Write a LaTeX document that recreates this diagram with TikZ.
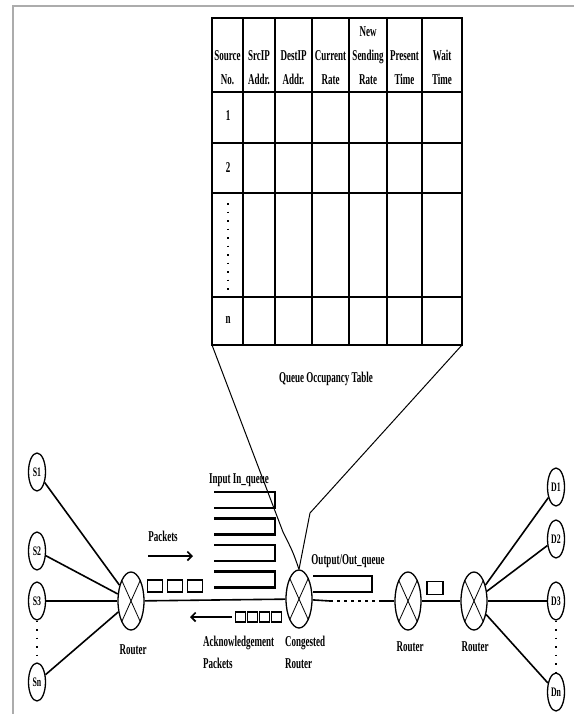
\documentclass[tikz,border=0pt]{standalone}
\usepackage{fontspec}
\setmainfont{Liberation Serif}[FakeStretch=0.6]
\usepackage{tikz}
\usetikzlibrary{arrows.meta}
\usetikzlibrary{shapes.geometric}
\usetikzlibrary{positioning}
\tikzset{>={Straight Barb[length=1.6mm,width=3.2mm]}}
\tikzset{
  router/.style={ellipse, draw, line width=1.3pt, minimum width=26pt, minimum height=58pt, inner sep=0pt,
    path picture={\draw[line width=.8pt] (path picture bounding box.north west) -- (path picture bounding box.south east)
      (path picture bounding box.south west) -- (path picture bounding box.north east);}},
  host/.style={ellipse, draw, line width=1.3pt, minimum width=17pt, minimum height=38pt, inner sep=0pt,
    font=\fontsize{13}{13}\selectfont\bfseries},
  link/.style={line width=1.6pt},
  lbl/.style={font=\fontsize{15}{22}\selectfont\bfseries, inner sep=0pt},
  pkt/.style={draw, line width=1.2pt, inner sep=0pt},
  qline/.style={line width=2.2pt},
  sparsedots/.style={line width=1.4pt, dash pattern=on 1.5pt off 7pt}
}

\begin{document}
\begin{tikzpicture}[x=1pt,y=-1pt]
  \useasboundingbox (0,0) rectangle (574,714);
  % Frame
  \draw[gray!65, line width=2pt] (13,714) -- (13,6) -- (574,6);
  % Queue occupancy table
  \foreach \x in {243,275,312,349,387,422}
    \draw[line width=1.4pt] (\x,18) -- (\x,345);
  \foreach \y in {92,143,193,297}
    \draw[line width=2.4pt] (212,\y) -- (462,\y);
  \draw[line width=1.8pt] (212,18) rectangle (462,345);
  \foreach \x/\txt [count=\i] in {227.5/{Source\\No.}, 259/{SrcIP\\Addr.}, 293.5/{DestIP\\Addr.},
      330.5/{Current\\Rate}, 368/{New\\Sending\\Rate}, 404.5/{Present\\Time}, 442/{Wait\\Time}}
    \node[lbl, font=\fontsize{15}{24}\selectfont\bfseries, align=center, anchor=south] (head\i) at (\x,85) {\txt};
  \node[lbl] (row1) at (228,116) {1};
  \node[lbl] (row2) at (228,168) {2};
  \node[lbl] (rown) at (228,320) {n};
  \coordinate (dotstop) at (228,203);
  \coordinate (dotsbot) at (228,290);
  \draw[sparsedots] (dotstop) -- (dotsbot);
  \node[lbl] (qotable) at (326,379) {Queue Occupancy Table};
  % Routers and end hosts
  \node[router] (rl) at (131,601) {};
  \node[router] (rc) at (299,599) {};
  \node[router] (rm) at (408,601) {};
  \node[router] (rr) at (474,601) {};
  \node[host] (s1) at (37,472) {S1};
  \node[host] (s2) at (37,551) {S2};
  \node[host] (s3) at (37,601) {S3};
  \node[host] (sn) at (37,682) {Sn};
  \node[host] (d1) at (556,487) {D1};
  \node[host] (d2) at (556,539) {D2};
  \node[host] (d3) at (556,601) {D3};
  \node[host] (dn) at (556,692) {Dn};
  % Funnel from table to congested router
  \coordinate (tblbl) at (212,345);
  \coordinate (tblbr) at (462,345);
  \draw[line width=1pt] (tblbl) -- (283,532) .. controls (293,552) .. (rc.north);
  \draw[line width=1pt] (tblbr) -- (310,513) -- (rc.north);
  % Links
  \foreach \s in {s1,s2,s3,sn}
    \draw[link] (\s) -- (rl);
  \foreach \d in {d1,d2,d3,dn}
    \draw[link] (rr) -- (\d);
  \draw[sparsedots] (s3) -- (sn);
  \draw[sparsedots] (d3) -- (dn);
  \draw[link] (rl) -- (rc);
  \coordinate (dashl) at (330,601);
  \coordinate (dashr) at (382,601);
  \draw[link] (rc) -- (dashl);
  \draw[link, dash pattern=on 3pt off 4pt] (dashl) -- (dashr);
  \draw[link] (dashr) -- (rm);
  \draw[link] (rm) -- (rr);
  % Input queue
  \foreach \i in {0,...,3}
    \draw[qline] (214,492+26.5*\i) -| (275,508+26.5*\i) -- (214,508+26.5*\i);
  \node[lbl] (inq) at (239,480) {Input In\_queue};
  % Output queue
  \draw[qline] (313,576) -| (372,592) -- (313,592);
  \node[lbl] (outq) at (348,561) {Output/Out\_queue};
  % Packets
  \foreach \x in {155,175,195}
    \node[pkt, minimum width=15pt, minimum height=12pt] (p\x) at (\x,586) {};
  \node[pkt, minimum width=16pt, minimum height=13pt] (pmid) at (435,588) {};
  \node[lbl] (pktlbl) at (163,536) {Packets};
  \coordinate (pktfrom) at (148,556);
  \coordinate (pktto) at (193,556);
  \draw[link, ->] (pktfrom) -- (pktto);
  % Acknowledgements
  \foreach \x [count=\i] in {240.5,252.5,264.5,276.5}
    \node[pkt, minimum width=10pt, minimum height=10pt] (ack\i) at (\x,617) {};
  \coordinate (ackend) at (190,617);
  \draw[link, ->] ([xshift=-3pt]ack1.west) -- (ackend);
  \node[lbl, align=left, anchor=north west] (acklbl) at (203,636) {Acknowledgement\\Packets};
  % Router labels
  \node[lbl, align=left, anchor=north west] (rclbl) at (285,636) {Congested\\Router};
  \node[lbl] (rllbl) at (133,650) {Router};
  \node[lbl] (rmlbl) at (410,647) {Router};
  \node[lbl] (rrlbl) at (475,647) {Router};
\end{tikzpicture}
\end{document}
